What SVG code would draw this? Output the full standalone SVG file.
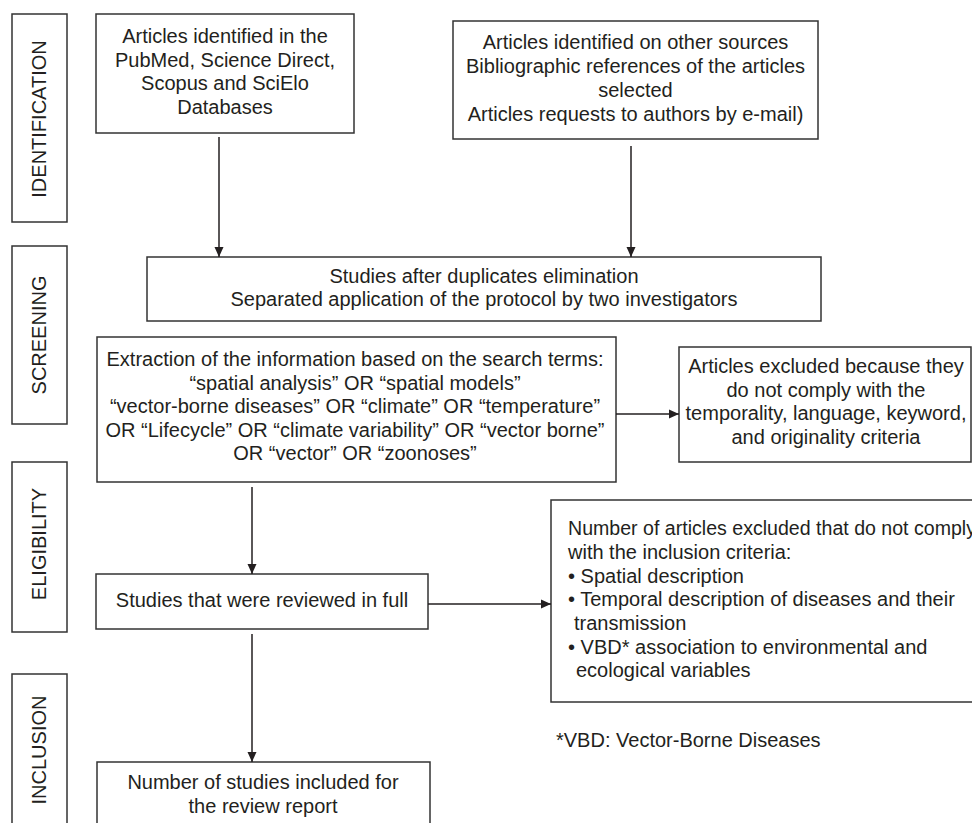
<svg xmlns="http://www.w3.org/2000/svg" width="972" height="823" viewBox="0 0 972 823">
<defs>
<style>
.box{fill:#fff;stroke:#333;stroke-width:1.5}
.t{font-family:"Liberation Sans",Arial,sans-serif;font-size:20px;fill:#231f20}
.c{text-anchor:middle}
.conn{stroke:#231f20;stroke-width:1.5;fill:none}
</style>
<marker id="ah" viewBox="0 0 10 10" refX="10" refY="5" markerWidth="10" markerHeight="10" markerUnits="userSpaceOnUse" orient="auto">
<path d="M0,0.5 L10,5 L0,9.5 Z" fill="#231f20"/>
</marker>
</defs>
<rect width="972" height="823" fill="#fff"/>

<g id="stage-identification">
<rect class="box" x="12" y="14" width="55" height="208"/>
<text class="t c" transform="translate(46,119) rotate(-90)">IDENTIFICATION</text>
</g>
<g id="stage-screening">
<rect class="box" x="12" y="246" width="55" height="178"/>
<text class="t c" transform="translate(46,335) rotate(-90)">SCREENING</text>
</g>
<g id="stage-eligibility">
<rect class="box" x="12" y="462" width="55" height="170"/>
<text class="t c" transform="translate(46,544) rotate(-90)">ELIGIBILITY</text>
</g>
<g id="stage-inclusion">
<rect class="box" x="12" y="674" width="55" height="160"/>
<text class="t c" transform="translate(46,750) rotate(-90)">INCLUSION</text>
</g>

<g id="databases">
<rect class="box" x="96" y="14" width="258" height="119"/>
<text class="t c" x="225" y="43">Articles identified in the</text>
<text class="t c" x="225" y="66.5">PubMed, Science Direct,</text>
<text class="t c" x="225" y="90">Scopus and SciElo</text>
<text class="t c" x="225" y="113.5">Databases</text>
</g>

<g id="other-sources">
<rect class="box" x="453" y="21" width="365" height="118"/>
<text class="t c" x="635.5" y="49">Articles identified on other sources</text>
<text class="t c" x="635.5" y="73">Bibliographic references of the articles</text>
<text class="t c" x="635.5" y="97">selected</text>
<text class="t c" x="635.5" y="121">Articles requests to authors by e-mail)</text>
</g>

<g id="screening">
<rect class="box" x="147" y="257" width="674" height="64"/>
<text class="t c" x="484" y="283">Studies after duplicates elimination</text>
<text class="t c" x="484" y="306">Separated application of the protocol by two investigators</text>
</g>

<g id="extraction">
<rect class="box" x="97" y="337" width="519" height="145"/>
<text class="t c" x="355" y="366">Extraction of the information based on the search terms:</text>
<text class="t c" x="355" y="389.5">“spatial analysis” OR “spatial models”</text>
<text class="t c" x="355" y="413">“vector-borne diseases” OR “climate” OR “temperature”</text>
<text class="t c" x="355" y="436.5">OR “Lifecycle” OR “climate variability” OR “vector borne”</text>
<text class="t c" x="355" y="460">OR “vector” OR “zoonoses”</text>
</g>

<g id="excluded-criteria">
<rect class="box" x="679" y="347" width="292" height="115"/>
<text class="t c" x="826" y="373">Articles excluded because they</text>
<text class="t c" x="826" y="397">do not comply with the</text>
<text class="t c" x="826" y="420">temporality, language, keyword,</text>
<text class="t c" x="826" y="444">and originality criteria</text>
</g>

<g id="reviewed">
<rect class="box" x="96" y="574" width="332" height="55"/>
<text class="t c" x="262" y="607">Studies that were reviewed in full</text>
</g>

<g id="excluded-inclusion">
<rect class="box" x="551" y="500" width="430" height="202"/>
<text class="t" x="568" y="535" textLength="408" lengthAdjust="spacingAndGlyphs">Number of articles excluded that do not comply</text>
<text class="t" x="568" y="558.5">with the inclusion criteria:</text>
<text class="t" x="568" y="582.5">• Spatial description</text>
<text class="t" x="568" y="606">• Temporal description of diseases and their</text>
<text class="t" x="574" y="630">transmission</text>
<text class="t" x="568" y="654">• VBD* association to environmental and</text>
<text class="t" x="576" y="677">ecological variables</text>
</g>

<g id="included">
<rect class="box" x="97" y="762" width="333" height="80"/>
<text class="t c" x="263" y="789">Number of studies included for</text>
<text class="t c" x="263" y="813">the review report</text>
</g>

<g id="footnote">
<text class="t" x="556" y="747">*VBD: Vector-Borne Diseases</text>
</g>

<g id="connectors">
<line class="conn" x1="219" y1="137" x2="219" y2="257" marker-end="url(#ah)"/>
<line class="conn" x1="631" y1="146" x2="631" y2="257" marker-end="url(#ah)"/>
<line class="conn" x1="616" y1="414" x2="679" y2="414" marker-end="url(#ah)"/>
<line class="conn" x1="252" y1="487" x2="252" y2="574" marker-end="url(#ah)"/>
<line class="conn" x1="428" y1="604" x2="551" y2="604" marker-end="url(#ah)"/>
<line class="conn" x1="252" y1="634" x2="252" y2="762" marker-end="url(#ah)"/>
</g>
</svg>
